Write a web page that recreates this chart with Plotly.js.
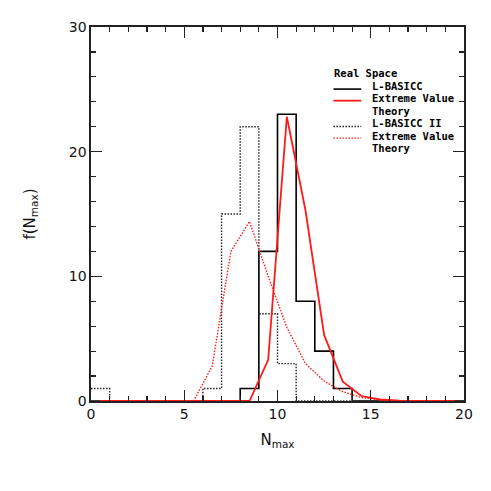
<!DOCTYPE html>
<html>
<head>
<meta charset="utf-8">
<script src="https://cdn.plot.ly/plotly-3.0.1.min.js"></script>
<style>
html,body{margin:0;padding:0;background:#fff;}
#chart{width:491px;height:491px;}
</style>
</head>
<body>
<div id="chart"></div>
<script>
// Bin edges of the histograms (N_max)
const binEdges = [0,1,2,3,4,5,6,7,8,9,10,11,12,13,14,15,16,17,18,19,20];
// Bin centres where the theory curves are evaluated
const binCenters = [0.5,1.5,2.5,3.5,4.5,5.5,6.5,7.5,8.5,9.5,10.5,11.5,12.5,13.5,14.5,15.5,16.5,17.5,18.5,19.5];
// L-BASICC histogram counts per bin
const lbasicc = [0,0,0,0,0,0,0,0,1,12,23,8,4,1,0,0,0,0,0,0];
// L-BASICC II histogram counts per bin
const lbasicc2 = [1,0,0,0,0,0,1,15,22,7,3,0,0,0,0,0,0,0,0,0];
// Extreme Value Theory for L-BASICC
const evt1 = [0,0,0,0,0,0,0,0,0,3.3,22.8,15.3,5.3,1.55,0.4,0.12,0.03,0.01,0,0];
// Extreme Value Theory for L-BASICC II
const evt2 = [0,0,0,0,0,0,2.8,12.0,14.4,10.0,5.9,3.0,1.6,0.75,0.28,0.1,0.03,0.01,0,0];

// legend entries
const legendTitle = "Real Space";
const legendLabels = ["L-BASICC", "Extreme Value", "Theory", "L-BASICC II", "Extreme Value", "Theory"];

const stepY = a => a.concat([a[a.length-1]]);

const dotDash = "1.5px,1.5px";

const traces = [
  {x: binEdges, y: stepY(lbasicc), mode: 'lines', line: {shape: 'hv', color: '#000', width: 1.6}, showlegend: false, hoverinfo: 'skip'},
  {x: binEdges, y: stepY(lbasicc2), mode: 'lines', line: {shape: 'hv', color: '#222', width: 1.4, dash: dotDash}, showlegend: false, hoverinfo: 'skip'},
  {x: binCenters, y: evt2, mode: 'lines', line: {color: '#ff1a1a', width: 1.4, dash: dotDash}, showlegend: false, hoverinfo: 'skip'},
  {x: binCenters, y: evt1, mode: 'lines', line: {color: '#ff1a1a', width: 1.8}, showlegend: false, hoverinfo: 'skip'}
];

const tickFont = {family: 'DejaVu Sans', size: 14, color: '#111'};
const axisCommon = {
  showgrid: false, zeroline: false, showline: true, linecolor: '#222', linewidth: 1.6,
  mirror: 'ticks', ticks: 'inside', ticklen: 11, tickwidth: 1.3, tickcolor: '#222',
  tickfont: tickFont
};

const annotations = [];
const shapes = [];
const legX0 = 0.650, legX1 = 0.7246, legTextX = 0.752;
annotations.push({xref: 'paper', yref: 'paper', x: legX0, y: 0.8766, xanchor: 'left', yanchor: 'middle',
  text: legendTitle, showarrow: false, borderpad: 0,
  font: {family: 'DejaVu Sans Mono', size: 10.5, color: '#000', weight: 'bold'}});
const textYs = [0.843, 0.809, 0.776, 0.743, 0.709, 0.676];
legendLabels.forEach((t, i) => {
  annotations.push({xref: 'paper', yref: 'paper', x: legTextX, y: textYs[i], xanchor: 'left', yanchor: 'middle',
    text: t, showarrow: false, borderpad: 0,
    font: {family: 'DejaVu Sans Mono', size: 10.5, color: '#000', weight: 'bold'}});
});
const sampleStyles = [
  {y: 0.834, color: '#000', width: 1.6, dash: 'solid'},
  {y: 0.803, color: '#ff1a1a', width: 1.8, dash: 'solid'},
  {y: 0.734, color: '#222', width: 1.4, dash: dotDash},
  {y: 0.703, color: '#ff1a1a', width: 1.4, dash: dotDash}
];
sampleStyles.forEach(s => {
  shapes.push({type: 'line', xref: 'paper', yref: 'paper', x0: legX0, x1: legX1, y0: s.y, y1: s.y,
    line: {color: s.color, width: s.width, dash: s.dash}});
});

const layout = {
  width: 491, height: 491,
  margin: {l: 91, r: 27, t: 27, b: 90},
  paper_bgcolor: '#fff', plot_bgcolor: '#fff',
  showlegend: false,
  xaxis: Object.assign({}, axisCommon, {
    range: [0, 20], tickmode: 'linear', tick0: 0, dtick: 5,
    minor: {dtick: 1, ticks: 'inside', ticklen: 5, tickwidth: 1.2, tickcolor: '#222'},
    title: {text: 'N<sub>max</sub>', font: {family: 'DejaVu Sans', size: 15, color: '#111'}, standoff: 13}
  }),
  yaxis: Object.assign({}, axisCommon, {
    range: [0, 30], tickmode: 'linear', tick0: 0, dtick: 10,
    minor: {dtick: 2, ticks: 'inside', ticklen: 5, tickwidth: 1.2, tickcolor: '#222'},
    title: {text: 'f(N<sub>max</sub>)', font: {family: 'DejaVu Sans', size: 15, color: '#111'}, standoff: 29}
  }),
  annotations: annotations,
  shapes: shapes
};

Plotly.newPlot('chart', traces, layout, {staticPlot: true, displayModeBar: false});
</script>
</body>
</html>
